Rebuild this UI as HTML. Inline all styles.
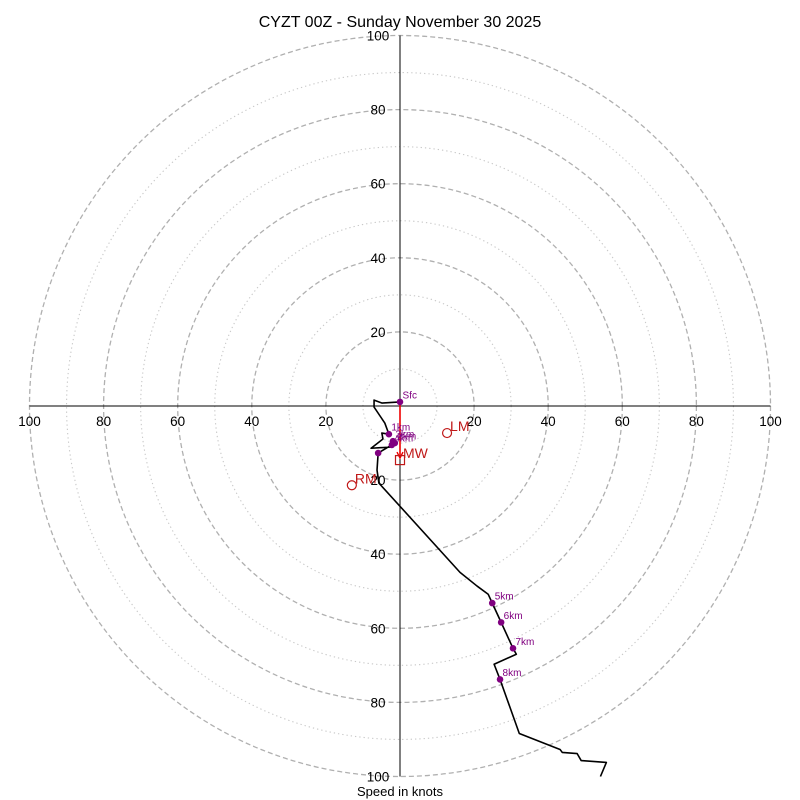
<!DOCTYPE html>
<html><head><meta charset="utf-8"><style>
body{margin:0;background:#fff}
svg{display:block;font-family:"Liberation Sans","DejaVu Sans",sans-serif}
</style></head><body>
<svg id="chart" width="800" height="800">
<rect width="800" height="800" fill="#fff"/>
<text x="400" y="27" text-anchor="middle" font-size="16">CYZT 00Z - Sunday November 30 2025</text>
<g id="rings"></g>
<g id="axes"></g>
<g id="ticks"></g>
<g id="trace"></g>
<g id="markers"></g>
<text x="400" y="796" text-anchor="middle" font-size="13">Speed in knots</text>
</svg>
<script>
const ringValues=[10,20,30,40,50,60,70,80,90,100];
const tickLabels=[20,40,60,80,100];
const traceU=[0,-4.9,-7.0,-7.0,-4.1,-3.0,-4.9,-4.6,-7.8,-2.7,-1.9,-1.4,-2.2,-5.9,-6.2,-5.7,16.2,20.8,23.8,24.9,27.3,30.5,31.4,25.4,27.0,32.2,43.2,43.8,47.8,48.9,55.7,54.1];
const traceV=[1.1,0.8,1.6,-0.3,-4.6,-7.6,-7.3,-8.9,-11.4,-11.1,-9.5,-10.0,-10.5,-12.7,-17.3,-20.8,-44.9,-48.6,-50.8,-53.2,-58.4,-65.4,-67.0,-69.7,-73.8,-88.4,-92.7,-93.5,-93.8,-95.7,-96.2,-100];
const heightLabels=["Sfc","1km","2km","3km","4km","5km","6km","7km","8km"];
const heightU=[0,-3.0,-1.4,-1.9,-2.2,24.9,27.3,30.5,27.0];
const heightV=[1.1,-7.6,-10.0,-9.5,-10.5,-53.2,-58.4,-65.4,-73.8];
const extraDotU=[-5.9], extraDotV=[-12.7];
const lmU=12.7, lmV=-7.3, rmU=-13.0, rmV=-21.4, mwU=0, mwV=-14.6;

const NS="http://www.w3.org/2000/svg";
const cx=400, cy=406, scale=3.705;
const X=u=>cx+u*scale, Y=v=>cy-v*scale;
function mk(tag,attrs,parent,text){const e=document.createElementNS(NS,tag);for(const k in attrs)e.setAttribute(k,attrs[k]);if(text!==undefined)e.textContent=text;parent.appendChild(e);return e;}
const rings=document.getElementById('rings');
ringValues.forEach(r=>{
  const c=mk('circle',{cx:cx,cy:cy,r:r*scale,fill:'none',stroke:r%20===0?'#b0b0b0':'#c8c8c8','stroke-width':r%20===0?1.3:1.1,'stroke-dasharray':r%20===0?'5,3':'1.3,3'},rings);
  
  
});
const axes=document.getElementById('axes');
const hx=mk('line',{x1:X(-100),y1:cy,x2:X(100),y2:cy,stroke:'#000','stroke-width':1},axes);


const vy=mk('line',{x1:cx,y1:Y(100),x2:cx,y2:Y(-100),stroke:'#000','stroke-width':1},axes);


const ticks=document.getElementById('ticks');
tickLabels.forEach(t=>{
  [X(t),X(-t)].forEach(x=>{
    const e=mk('text',{x:x,y:cy+20,'text-anchor':'middle','font-size':13.5},ticks,String(t));
    
    
  });
  [Y(t),Y(-t)].forEach(y=>{
    const e=mk('text',{x:cx-22,y:y+5,'text-anchor':'middle','font-size':13.5},ticks,String(t));
    
    
  });
});
const trace=document.getElementById('trace');
const pl=mk('polyline',{points:traceU.map((u,i)=>X(u)+','+Y(traceV[i])).join(' '),fill:'none',stroke:'#000','stroke-width':1.6,'stroke-linejoin':'round'},trace);


const arr=mk('line',{x1:X(0),y1:Y(heightV[0]),x2:X(mwU),y2:Y(mwV)-3,stroke:'#e00','stroke-width':1.6},trace);


const ah=mk('path',{d:`M${X(mwU)-3},${Y(mwV)-8} L${X(mwU)},${Y(mwV)-2} L${X(mwU)+3},${Y(mwV)-8}`,fill:'none',stroke:'#e00','stroke-width':1.4},trace);


const m=document.getElementById('markers');
extraDotU.forEach((u,i)=>{
  const d=mk('circle',{cx:X(u),cy:Y(extraDotV[i]),r:3.3,fill:'#800080'},m);
  
  
});
heightLabels.forEach((l,i)=>{
  const d=mk('circle',{cx:X(heightU[i]),cy:Y(heightV[i]),r:3.3,fill:'#800080'},m);
  
  
  const t=mk('text',{x:X(heightU[i])+2.5,y:Y(heightV[i])-3.5,'font-size':10,fill:'#800080'},m,l);
  
  
});
const lm=mk('circle',{cx:X(lmU),cy:Y(lmV),r:4.5,fill:'none',stroke:'#c01818','stroke-width':1.2},m);


const lmt=mk('text',{x:X(lmU)+3,y:Y(lmV)-2,'font-size':14,fill:'#c01818'},m,'LM');


const rm=mk('circle',{cx:X(rmU),cy:Y(rmV),r:4.5,fill:'none',stroke:'#c01818','stroke-width':1.2},m);


const rmt=mk('text',{x:X(rmU)+3,y:Y(rmV)-2,'font-size':14,fill:'#c01818'},m,'RM');


const mw=mk('rect',{x:X(mwU)-4.5,y:Y(mwV)-4.5,width:9,height:9,fill:'none',stroke:'#c01818','stroke-width':1.2},m);


const mwt=mk('text',{x:X(mwU)+3,y:Y(mwV)-2,'font-size':14,fill:'#c01818'},m,'MW');


</script>
</body></html>
